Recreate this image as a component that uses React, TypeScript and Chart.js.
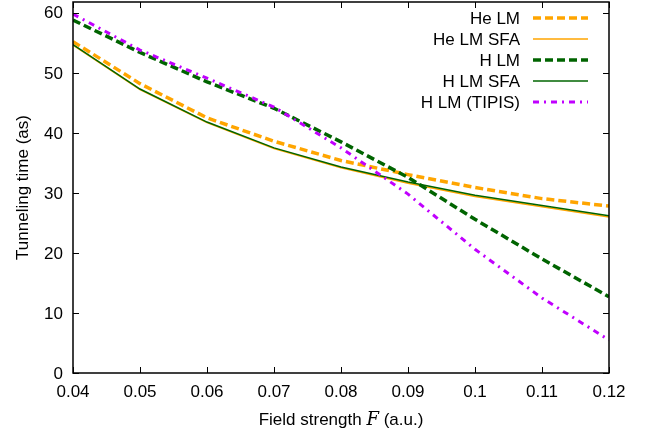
import React, { useEffect, useRef } from "react";
import { Chart, registerables } from "chart.js";

Chart.register(...registerables);

const fieldStrength = [0.04, 0.05, 0.06, 0.07, 0.08, 0.09, 0.1, 0.11, 0.12];
const heLM = [55.2, 48.2, 42.5, 38.6, 35.4, 33.05, 30.9, 29.05, 27.8];
const heLMSFA = [54.6, 47.2, 41.7, 37.4, 34.2, 31.6, 29.4, 27.7, 26.0];
const hLM = [58.8, 53.4, 48.5, 44.1, 38.5, 32.6, 25.6, 19.0, 12.7];
const hLMSFA = [54.7, 47.3, 41.8, 37.5, 34.3, 31.8, 29.6, 27.9, 26.2];
const hLMTIPIS = [59.8, 53.8, 49.1, 44.3, 37.5, 29.8, 20.6, 12.5, 5.5];

const xTickValues = [0.04, 0.05, 0.06, 0.07, 0.08, 0.09, 0.1, 0.11, 0.12];
const xTickLabels = ["0.04", "0.05", "0.06", "0.07", "0.08", "0.09", "0.1", "0.11", "0.12"];
const yTickValues = [0, 10, 20, 30, 40, 50, 60];
const yTickLabels = ["0", "10", "20", "30", "40", "50", "60"];

const seriesNames = ["He LM", "He LM SFA", "H LM", "H LM SFA", "H LM (TIPIS)"];

const SANS = '"Liberation Sans", Arial, Helvetica, sans-serif';

type Style = { color: string; width: number; dash: number[] };
const styles: Style[] = [
  { color: "#FFA500", width: 3.5, dash: [8, 4] },
  { color: "#FFA500", width: 1.5, dash: [] },
  { color: "#006400", width: 3.5, dash: [8, 4] },
  { color: "#006400", width: 1.5, dash: [] },
  { color: "#C000FF", width: 3, dash: [6, 5, 2, 5] },
];

const seriesValues = [heLM, heLMSFA, hLM, hLMSFA, hLMTIPIS];

const framePlugin = {
  id: "gnuFrame",
  afterDatasetsDraw(chart: any) {
    const { ctx, chartArea: a, scales } = chart;
    const xs = scales.x;
    const ys = scales.y;
    ctx.save();
    // frame
    ctx.strokeStyle = "#000";
    ctx.lineWidth = 1.5;
    ctx.setLineDash([]);
    ctx.strokeRect(a.left, a.top, a.right - a.left, a.bottom - a.top);
    // ticks
    ctx.lineWidth = 1;
    const tl = 6;
    ctx.beginPath();
    xTickValues.forEach((v) => {
      const px = Math.round(xs.getPixelForValue(v)) + 0.5;
      ctx.moveTo(px, a.bottom);
      ctx.lineTo(px, a.bottom - tl);
      ctx.moveTo(px, a.top);
      ctx.lineTo(px, a.top + tl);
    });
    yTickValues.forEach((v) => {
      const py = Math.round(ys.getPixelForValue(v)) + 0.5;
      ctx.moveTo(a.left, py);
      ctx.lineTo(a.left + tl, py);
      ctx.moveTo(a.right, py);
      ctx.lineTo(a.right - tl, py);
    });
    ctx.stroke();
    // tick labels
    ctx.fillStyle = "#000";
    ctx.font = `17px ${SANS}`;
    ctx.textAlign = "center";
    ctx.textBaseline = "middle";
    xTickValues.forEach((v, i) => {
      ctx.fillText(xTickLabels[i], xs.getPixelForValue(v), a.bottom + 19);
    });
    ctx.textAlign = "right";
    yTickValues.forEach((v, i) => {
      ctx.fillText(yTickLabels[i], a.left - 10, ys.getPixelForValue(v) + 1);
    });
    // x title
    const p1 = "Field strength ";
    const p2 = "F";
    const p3 = " (a.u.)";
    ctx.font = `17px ${SANS}`;
    const w1 = ctx.measureText(p1).width;
    const w3 = ctx.measureText(p3).width;
    ctx.font = `italic 18px "DejaVu Serif", "Liberation Serif", serif`;
    const w2 = ctx.measureText(p2).width;
    const total = w1 + w2 + w3;
    let sx = (a.left + a.right) / 2 - total / 2;
    const ty = a.bottom + 47;
    ctx.textAlign = "left";
    ctx.font = `17px ${SANS}`;
    ctx.fillText(p1, sx, ty);
    sx += w1;
    ctx.font = `italic 18px "DejaVu Serif", "Liberation Serif", serif`;
    ctx.fillText(p2, sx, ty);
    sx += w2;
    ctx.font = `17px ${SANS}`;
    ctx.fillText(p3, sx, ty);
    // y title
    ctx.save();
    ctx.translate(23, (a.top + a.bottom) / 2);
    ctx.rotate(-Math.PI / 2);
    ctx.textAlign = "center";
    ctx.fillText("Tunneling time (as)", 0, 0);
    ctx.restore();
    // legend
    const textRight = 520;
    const sampleL = 533;
    const sampleR = 588;
    seriesNames.forEach((name, i) => {
      const ry = 18 + i * 21;
      ctx.fillStyle = "#000";
      ctx.textAlign = "right";
      ctx.textBaseline = "middle";
      ctx.font = `17px ${SANS}`;
      ctx.fillText(name, textRight, ry + 1);
      const s = styles[i];
      ctx.strokeStyle = s.color;
      ctx.lineWidth = s.width;
      ctx.setLineDash(s.dash);
      ctx.beginPath();
      ctx.moveTo(sampleL, ry);
      ctx.lineTo(sampleR, ry);
      ctx.stroke();
    });
    ctx.restore();
  },
};

export default function App() {
  const ref = useRef<HTMLCanvasElement | null>(null);
  useEffect(() => {
    if (!ref.current) return;
    const datasets = seriesNames.map((name, i) => ({
      label: name,
      data: fieldStrength.map((x, j) => ({ x, y: seriesValues[i][j] })),
      borderColor: styles[i].color,
      borderWidth: styles[i].width,
      borderDash: styles[i].dash,
      pointRadius: 0,
      tension: 0,
      fill: false,
      order: seriesNames.length - i,
    }));
    const chart = new Chart(ref.current, {
      type: "line",
      data: { datasets },
      options: {
        animation: false,
        responsive: false,
        maintainAspectRatio: false,
        devicePixelRatio: 1,
        layout: { padding: { left: 73, right: 39, top: 2, bottom: 63 } },
        plugins: { legend: { display: false }, tooltip: { enabled: false } },
        scales: {
          x: { type: "linear", min: 0.04, max: 0.12, display: false },
          y: { type: "linear", min: 0, max: 61.8, display: false },
        },
      },
      plugins: [framePlugin],
    });
    return () => chart.destroy();
  }, []);
  return (
    <div style={{ position: "fixed", left: 0, top: 0, width: 648, height: 436, background: "#fff" }}>
      <canvas ref={ref} width={648} height={436} style={{ width: 648, height: 436 }} />
    </div>
  );
}
